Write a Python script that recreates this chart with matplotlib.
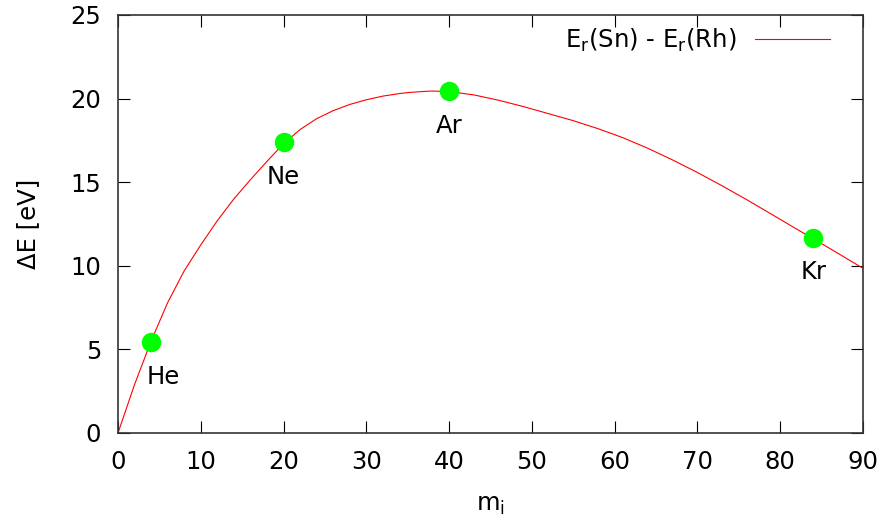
import matplotlib
matplotlib.use('Agg')
import matplotlib.pyplot as plt

# recoil energy difference curve, E_r(Sn) - E_r(Rh), vs projectile mass
mass_curve = [0, 2, 4, 6, 8, 10, 12, 14, 16, 18, 20, 22, 24, 26, 28, 30, 32,
              34, 35, 37, 38, 40, 43, 46, 49, 52, 55, 58, 61, 64, 67, 70, 73,
              76, 79, 82, 84, 87, 90]
dE_curve = [0, 2.9, 5.5, 7.8, 9.7, 11.25, 12.7, 14.0, 15.15, 16.25, 17.3,
            18.15, 18.8, 19.28, 19.65, 19.93, 20.15, 20.3, 20.36, 20.43, 20.45,
            20.42, 20.22, 19.9, 19.52, 19.1, 18.68, 18.2, 17.66, 17.03, 16.33,
            15.58, 14.78, 13.94, 13.07, 12.19, 11.62, 10.74, 9.85]

# noble gas projectiles
gases = ['He', 'Ne', 'Ar', 'Kr']
gas_mass = [4, 20, 40, 84]
gas_dE = [5.44, 17.38, 20.45, 11.64]
label_shift = [(9, -25), (0, -25), (0, -25), (0, -24)]

plt.rcParams['font.family'] = 'DejaVu Sans'
plt.rcParams['font.size'] = 17.5
plt.rcParams['mathtext.fontset'] = 'dejavusans'

fig = plt.figure(figsize=(8.85, 5.27), dpi=100)
ax = fig.add_axes([118 / 885, 1 - 433 / 527, 745 / 885, 418 / 527])

ax.plot(mass_curve, dE_curve, color='red', lw=0.8,
        label='E$_\\mathregular{r}$(Sn) - E$_\\mathregular{r}$(Rh)')
ax.plot(gas_mass, gas_dE, 'o', color='#00ff00', ms=13, zorder=3)
for name, m, e, off in zip(gases, gas_mass, gas_dE, label_shift):
    ax.annotate(name, (m, e), xytext=off, textcoords='offset points',
                ha='center', va='center')

ax.set_xlim(0, 90)
ax.set_ylim(0, 25)
ax.set_xticks(range(0, 91, 10))
ax.set_yticks(range(0, 26, 5))
ax.tick_params(direction='in', length=8.5, width=0.8, top=True, right=True,
               labelsize=17.5)
ax.tick_params(axis='x', pad=12)
ax.tick_params(axis='y', pad=12)
for s in ax.spines.values():
    s.set_linewidth(1.2)
    s.set_color('#333333')

ax.set_xlabel('m$_\\mathregular{i}$')
ax.xaxis.set_label_coords(372 / 745, -60 / 418)
ax.set_ylabel('ΔE [eV]')
ax.yaxis.set_label_coords(-78 / 745, 0.5)

lgd = ax.legend(loc='center right', bbox_to_anchor=(830 / 885, 1 - 40 / 527),
                bbox_transform=fig.transFigure, frameon=False,
                markerfirst=False, handlelength=3.1, handletextpad=0.75,
                borderpad=0, borderaxespad=0)

plt.savefig('out.png', dpi=100)
